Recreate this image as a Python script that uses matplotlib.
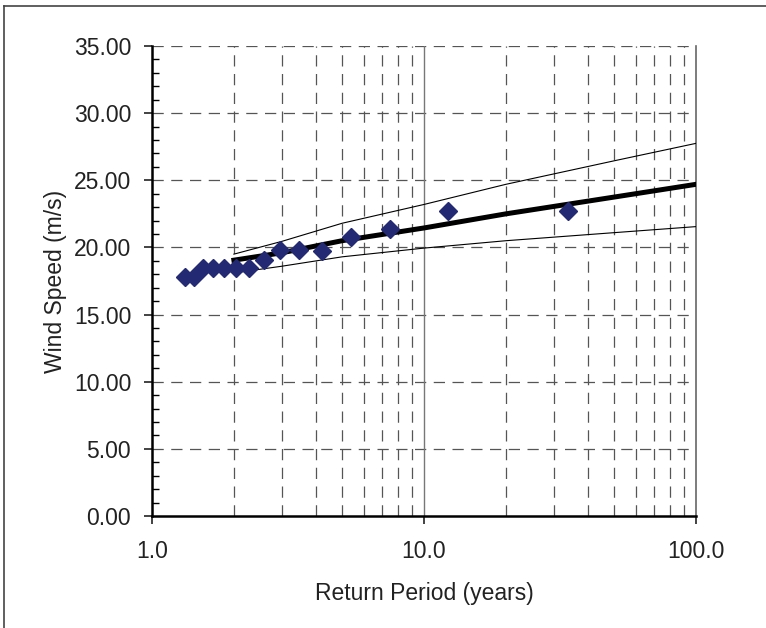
import matplotlib
matplotlib.use("Agg")
import matplotlib.pyplot as plt
from matplotlib.ticker import FixedLocator, FormatStrFormatter, NullFormatter, MultipleLocator
from matplotlib.lines import Line2D

plt.rcParams['font.family'] = ['Liberation Sans', 'DejaVu Sans']

# observed annual maxima, plotted at their return periods
period = [1.32, 1.43, 1.54, 1.68, 1.84, 2.04, 2.27, 2.58, 2.96, 3.47, 4.22, 5.39, 7.5, 12.25, 33.8]
speed = [17.8, 17.8, 18.5, 18.5, 18.5, 18.5, 18.45, 19.1, 19.8, 19.8, 19.75, 20.75, 21.4, 22.75, 22.75]

fit_t = [2, 3, 5, 10, 20, 50, 100]
fit_v = [19.05, 19.6, 20.5, 21.45, 22.5, 23.75, 24.7]
upper_v = [19.5, 20.45, 21.8, 23.2, 24.7, 26.45, 27.75]
lower_v = [18.1, 18.6, 19.3, 19.95, 20.5, 21.1, 21.55]

fig = plt.figure(figsize=(7.66, 6.28), dpi=100)
ax = fig.add_axes([152/766, 1 - 516/628, 544/766, 470/628])

ax.set_xscale('log')
ax.set_xlim(1, 100)
ax.set_ylim(0, 35)

# grid: dashed gray on y majors and x minors, solid at 10
grid_kw = dict(color='#555555', lw=0.9, dashes=(9, 6), zorder=1)
for yv in range(5, 36, 5):
    ax.axhline(yv, **grid_kw)
for dec in (1, 10):
    for m in range(2, 10):
        ax.axvline(dec * m, **grid_kw)
ax.axvline(10, color='#777777', lw=1.0, zorder=1)

ax.plot(fit_t, upper_v, color='black', lw=0.8, zorder=3)
ax.plot(fit_t, lower_v, color='black', lw=0.8, zorder=3)
ax.plot(fit_t, fit_v, color='black', lw=3.6, zorder=3)
ax.plot(period, speed, linestyle='none', marker='D', ms=9, color='#232a73',
        markeredgecolor='#232a73', zorder=4)

ax.spines['top'].set_visible(False)
ax.spines['right'].set_color('#666666')
ax.spines['right'].set_linewidth(1.2)
ax.spines['left'].set_linewidth(1.8)
ax.spines['bottom'].set_linewidth(1.8)

ax.xaxis.set_major_locator(FixedLocator([1, 10, 100]))
ax.xaxis.set_major_formatter(FormatStrFormatter('%.1f'))
ax.xaxis.set_minor_locator(FixedLocator([]))
ax.xaxis.set_minor_formatter(NullFormatter())
ax.yaxis.set_major_locator(MultipleLocator(5))
ax.yaxis.set_minor_locator(MultipleLocator(1))
ax.yaxis.set_major_formatter(FormatStrFormatter('%.2f'))

ax.tick_params(axis='x', which='major', direction='out', length=6, width=1.2, pad=11,
               labelsize=16.5, colors='#222222')
ax.tick_params(axis='y', which='major', direction='out', length=6, width=1.2, pad=9,
               labelsize=16.5, colors='#222222')
ax.tick_params(axis='y', which='minor', direction='in', length=5, width=1.0)

ax.set_xlabel('Return Period (years)', fontsize=16.5, color='#222222', labelpad=14)
ax.set_ylabel('Wind Speed (m/s)', fontsize=16.5, color='#222222', labelpad=5)

# outer frame (left and top edges visible)
fig.add_artist(Line2D([4/766, 4/766], [0, 1 - 6/628], transform=fig.transFigure,
                      color='#444444', lw=1.2))
fig.add_artist(Line2D([4/766, 1], [1 - 6/628, 1 - 6/628], transform=fig.transFigure,
                      color='#444444', lw=1.2))

fig.savefig('out.png', dpi=100)
